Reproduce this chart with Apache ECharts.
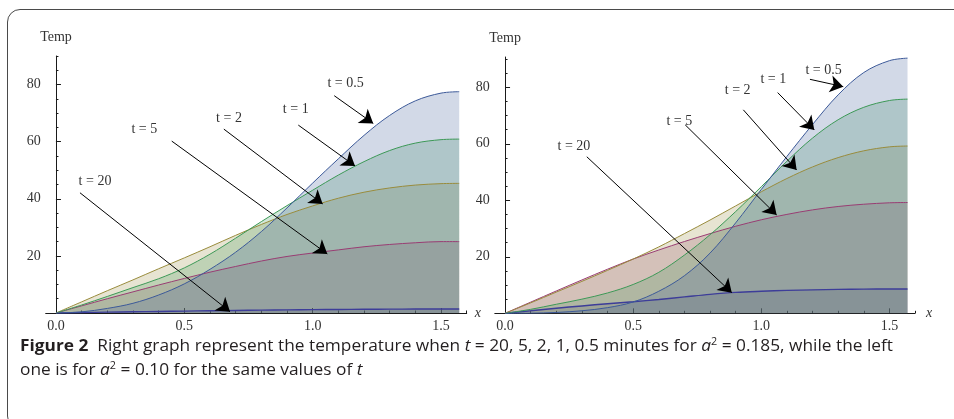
<!DOCTYPE html>
<html>
<head>
<meta charset="utf-8">
<script src="https://cdn.jsdelivr.net/npm/echarts@6/dist/echarts.min.js"></script>
<style>
html,body{margin:0;padding:0;background:#fff;overflow:hidden;}
#wrap{position:relative;width:954px;height:419px;overflow:hidden;background:#fff;}
#frame{position:absolute;left:7px;top:9px;width:1000px;height:420px;border:1.3px solid #4a4a4a;border-radius:13px;box-sizing:border-box;}
#chart{position:absolute;left:0;top:0;width:954px;height:419px;}
.cap{position:absolute;left:20px;font-family:"Open Sans","Noto Sans",sans-serif;font-size:16px;line-height:24px;color:#231f20;white-space:nowrap;transform-origin:0 50%;}
.cap b{font-weight:700;}
.cap i{font-style:italic;}
.cap sup{font-size:10px;line-height:0;vertical-align:6px;}
</style>
</head>
<body>
<div id="wrap">
  <div id="frame"></div>
  <div id="chart"></div>
  <div class="cap" id="cap1" style="top:333px;"><b>Figure 2</b>&nbsp; Right graph represent the temperature when <i>t</i> = 20, 5, 2, 1, 0.5 minutes for <i>a</i><sup>2</sup> = 0.185, while the left</div>
  <div class="cap" id="cap2" style="top:357px;">one is for <i>a</i><sup>2</sup> = 0.10 for the same values of <i>t</i></div>
</div>
<script>
// ---- data ----
var xs = [0, 0.1, 0.2, 0.3, 0.4, 0.5, 0.6, 0.7, 0.8, 0.9, 1.0, 1.1, 1.2, 1.3, 1.4, 1.5, 1.5708];
var tLabels = ['t = 20', 't = 5', 't = 2', 't = 1', 't = 0.5'];

// left graph (a^2 = 0.10)
var leftT20 = [0, 0.15, 0.3, 0.42, 0.55, 0.67, 0.79, 0.9, 1.0, 1.1, 1.18, 1.25, 1.31, 1.35, 1.38, 1.4, 1.4];
var leftT5  = [0, 2.5, 5.0, 7.4, 9.8, 12.1, 14.3, 16.3, 18.2, 19.8, 21.0, 22.1, 23.2, 24.0, 24.6, 25.0, 25.0];
var leftT2  = [0, 3.9, 7.8, 11.6, 15.5, 19.3, 23.2, 27.2, 31.0, 34.5, 37.5, 40.2, 42.3, 43.8, 44.8, 45.3, 45.4];
var leftT1  = [0, 2.8, 5.8, 8.9, 12.0, 15.8, 20.6, 26.2, 32.0, 37.6, 43.0, 48.3, 53.0, 56.9, 59.5, 60.7, 60.9];
var leftT05 = [0, 0.4, 1.6, 3.4, 6.3, 10.2, 15.3, 21.3, 28.5, 36.8, 45.5, 54.0, 62.2, 69.2, 74.3, 77.0, 77.5];

// right graph (a^2 = 0.185)
var rightT20 = [0, 0.9, 1.8, 2.6, 3.4, 4.1, 4.9, 5.8, 6.7, 7.4, 7.8, 8.1, 8.3, 8.45, 8.55, 8.6, 8.6];
var rightT5  = [0, 3.95, 7.9, 11.8, 15.6, 19.2, 22.4, 25.4, 28.2, 30.8, 33.1, 35.0, 36.6, 37.8, 38.6, 39.1, 39.2];
var rightT2  = [0, 3.7, 7.5, 11.3, 15.2, 19.2, 23.5, 28.2, 33.0, 38.0, 43.0, 47.7, 51.8, 55.1, 57.5, 58.9, 59.2];
var rightT1  = [0, 1.4, 3.2, 5.0, 7.2, 10.2, 14.5, 20.6, 27.8, 36.0, 44.8, 53.8, 62.0, 68.5, 72.9, 75.3, 75.8];
var rightT05 = [0, 0.05, 0.3, 0.9, 2.0, 4.0, 7.8, 13.3, 21.3, 32.0, 43.8, 55.5, 66.8, 77.3, 85.2, 89.4, 90.3];

// annotation positions (data units): label centre, arrow start, arrow end
var leftLabelPos  = [[0.152, 46.2], [0.344, 64.3], [0.674, 68.3], [0.934, 71.3], [1.128, 80.4]];
var leftArrowFrom = [[0.0935, 42.1], [0.451, 60.2], [0.654, 64.4], [0.944, 65.8], [1.084, 76.1]];
var leftArrowTo   = [[0.678, 0.46], [1.057, 20.7], [1.039, 38.2], [1.165, 51.5], [1.236, 66.4]];
var rightLabelPos  = [[0.269, 59.0], [0.680, 67.8], [0.908, 78.8], [1.047, 82.9], [1.243, 86.1]];
var rightArrowFrom = [[0.319, 55.4], [0.703, 66.7], [0.93, 72.0], [1.064, 78.1], [1.19, 82.8]];
var rightArrowTo   = [[0.885, 7.3], [1.06, 34.8], [1.138, 50.7], [1.207, 64.9], [1.32, 80.2]];

// tick values
var xMajorTicks = [0, 0.5, 1.0, 1.5];
var xMinorTicks = [0, 0.1, 0.2, 0.3, 0.4, 0.5, 0.6, 0.7, 0.8, 0.9, 1.0, 1.1, 1.2, 1.3, 1.4, 1.5, 1.6];
var yMajorTicks = [0, 20, 40, 60, 80];
var yTickLabels = [20, 40, 60, 80];
var yMinorTicks = [0, 5, 10, 15, 20, 25, 30, 35, 40, 45, 50, 55, 60, 65, 70, 75, 80, 85, 90];

// ---- styling ----
var colors = ['#3d3d99', '#993d73', '#998c3d', '#3d9957', '#3d5a99'];
var serif = '"Liberation Serif","DejaVu Serif",serif';
var axisColor = '#1a1a1a';
var textColor = '#333';

function pairs(vals) { return xs.map(function (x, i) { return [x, vals[i]]; }); }

function makeAxes(grid, yMax, nameGapX) {
  var xMajor = {
    type: 'value', gridIndex: grid, position: 'bottom', min: -0.04, max: 1.6,
    axisLine: { show: true, onZero: true, lineStyle: { color: axisColor, width: 1 } },
    axisTick: { show: true, inside: true, length: 5, customValues: xMajorTicks, lineStyle: { color: axisColor } },
    axisLabel: { customValues: xMajorTicks, formatter: function (v) { return v.toFixed(1); },
      fontFamily: serif, fontSize: 14, color: textColor, margin: 6 },
    splitLine: { show: false },
    name: 'x', nameLocation: 'end', nameGap: nameGapX,
    nameTextStyle: { fontFamily: serif, fontStyle: 'italic', fontSize: 14, color: textColor }
  };
  var xMinor = {
    type: 'value', gridIndex: grid, position: 'bottom', min: -0.04, max: 1.6,
    axisLine: { show: false, onZero: true },
    axisTick: { show: true, inside: true, length: 2.5, customValues: xMinorTicks, lineStyle: { color: axisColor } },
    axisLabel: { show: false }, splitLine: { show: false }
  };
  var yMajor = {
    type: 'value', gridIndex: grid, position: 'left', min: 0, max: yMax,
    axisLine: { show: true, onZero: true, lineStyle: { color: axisColor, width: 1 } },
    axisTick: { show: true, inside: true, length: 5, customValues: yMajorTicks, lineStyle: { color: axisColor } },
    axisLabel: { customValues: yTickLabels, fontFamily: serif, fontSize: 14, color: textColor, margin: 5 },
    splitLine: { show: false },
    name: 'Temp', nameLocation: 'end', nameGap: 12,
    nameTextStyle: { fontFamily: serif, fontSize: 14, color: textColor, align: 'center' }
  };
  var yMinor = {
    type: 'value', gridIndex: grid, position: 'left', min: 0, max: yMax,
    axisLine: { show: false, onZero: true },
    axisTick: { show: true, inside: true, length: 2.5, customValues: yMinorTicks, lineStyle: { color: axisColor } },
    axisLabel: { show: false }, splitLine: { show: false }
  };
  return { x: [xMajor, xMinor], y: [yMajor, yMinor] };
}

function makeSeries(datasets, axisIdx, labelPos, arrowFrom, arrowTo) {
  return datasets.map(function (vals, k) {
    return {
      type: 'line', xAxisIndex: axisIdx, yAxisIndex: axisIdx,
      data: pairs(vals), smooth: 0.35,
      showSymbol: false, symbol: 'none',
      lineStyle: { color: colors[k], width: k === 0 ? 1.4 : 1 },
      itemStyle: { color: colors[k] },
      areaStyle: { color: colors[k], opacity: 0.23 },
      z: 2,
      markLine: {
        silent: true, animation: false,
        symbol: ['none', 'arrow'], symbolSize: 13,
        lineStyle: { color: '#000', width: 1, type: 'solid' },
        label: { show: false },
        data: [[{ coord: arrowFrom[k] }, { coord: arrowTo[k] }]]
      },
      markPoint: {
        silent: true, animation: false,
        symbol: 'rect', symbolSize: 1, itemStyle: { color: 'rgba(0,0,0,0)' },
        label: { show: true, position: 'inside', formatter: tLabels[k], fontFamily: serif, fontSize: 14, color: textColor },
        data: [{ coord: labelPos[k] }]
      }
    };
  });
}

var L = makeAxes(0, 90, 8);
var R = makeAxes(1, 90.7, 11);

var option = {
  animation: false,
  backgroundColor: 'transparent',
  grid: [
    { left: 45.7, top: 56, width: 421, height: 257 },
    { left: 494.8, top: 57, width: 420.2, height: 256.3 }
  ],
  xAxis: [L.x[0], L.x[1], R.x[0], R.x[1]],
  yAxis: [L.y[0], L.y[1], R.y[0], R.y[1]],
  series: []
    .concat(makeSeries([leftT20, leftT5, leftT2, leftT1, leftT05], 0, leftLabelPos, leftArrowFrom, leftArrowTo))
    .concat(makeSeries([rightT20, rightT5, rightT2, rightT1, rightT05], 2, rightLabelPos, rightArrowFrom, rightArrowTo))
};

var chart = echarts.init(document.getElementById('chart'), null, { renderer: 'canvas' });
chart.setOption(option);

// fit caption line width to the reference layout
(function () {
  var c1 = document.getElementById('cap1'), c2 = document.getElementById('cap2');
  var w = c1.getBoundingClientRect().width;
  var s = 873 / w;
  c1.style.transform = 'scaleX(' + s + ')';
  c2.style.transform = 'scaleX(' + s + ')';
})();
</script>
</body>
</html>
